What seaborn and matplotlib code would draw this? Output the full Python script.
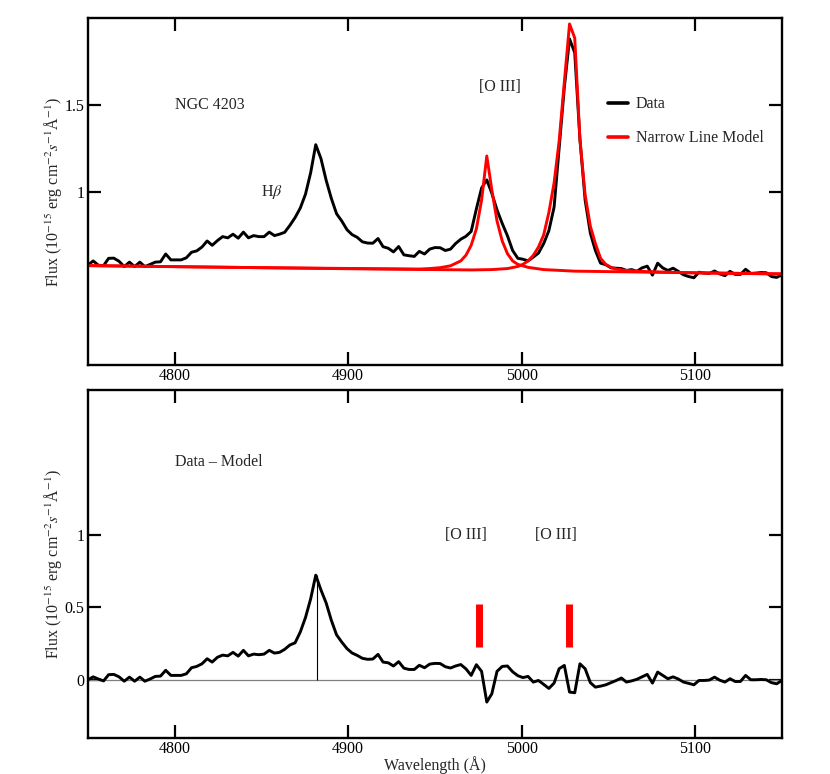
import numpy as np
import pandas as pd
import seaborn as sns
import matplotlib
matplotlib.use("Agg")
import matplotlib.pyplot as plt

# wavelength grid of the spectrum (Angstrom)
wave = [4750.0, 4753.0, 4756.0, 4759.0, 4761.9, 4764.9, 4767.9, 4770.9, 4773.9, 4776.9,
        4779.9, 4782.8, 4785.8, 4788.8, 4791.8, 4794.8, 4797.8, 4800.7, 4803.7, 4806.7,
        4809.7, 4812.7, 4815.7, 4818.7, 4821.6, 4824.6, 4827.6, 4830.6, 4833.6, 4836.6,
        4839.6, 4842.5, 4845.5, 4848.5, 4851.5, 4854.5, 4857.5, 4860.4, 4863.4, 4866.4,
        4869.4, 4872.4, 4875.4, 4878.4, 4881.3, 4884.3, 4887.3, 4890.3, 4893.3, 4896.3,
        4899.3, 4902.2, 4905.2, 4908.2, 4911.2, 4914.2, 4917.2, 4920.1, 4923.1, 4926.1,
        4929.1, 4932.1, 4935.1, 4938.1, 4941.0, 4944.0, 4947.0, 4950.0, 4953.0, 4956.0,
        4959.0, 4961.9, 4964.9, 4967.9, 4970.9, 4973.9, 4976.9, 4979.9, 4982.8, 4985.8,
        4988.8, 4991.8, 4994.8, 4997.8, 5000.7, 5003.7, 5006.7, 5009.7, 5012.7, 5015.7,
        5018.7, 5021.6, 5024.6, 5027.6, 5030.6, 5033.6, 5036.6, 5039.6, 5042.5, 5045.5,
        5048.5, 5051.5, 5054.5, 5057.5, 5060.4, 5063.4, 5066.4, 5069.4, 5072.4, 5075.4,
        5078.4, 5081.3, 5084.3, 5087.3, 5090.3, 5093.3, 5096.3, 5099.3, 5102.2, 5105.2,
        5108.2, 5111.2, 5114.2, 5117.2, 5120.1, 5123.1, 5126.1, 5129.1, 5132.1, 5135.1,
        5138.1, 5141.0, 5144.0, 5147.0, 5150.0]

# observed flux (1e-15 erg/cm2/s/A)
flux = [0.577, 0.600, 0.575, 0.573, 0.615, 0.616, 0.598, 0.567, 0.593, 0.567,
        0.593, 0.567, 0.580, 0.593, 0.595, 0.640, 0.606, 0.606, 0.606, 0.618,
        0.650, 0.658, 0.680, 0.715, 0.690, 0.717, 0.740, 0.733, 0.754, 0.731,
        0.766, 0.733, 0.746, 0.740, 0.740, 0.766, 0.746, 0.754, 0.765, 0.805,
        0.850, 0.905, 0.985, 1.110, 1.270, 1.190, 1.065, 0.960, 0.872, 0.830,
        0.780, 0.752, 0.736, 0.710, 0.703, 0.702, 0.729, 0.682, 0.673, 0.652,
        0.683, 0.635, 0.630, 0.626, 0.655, 0.640, 0.668, 0.677, 0.676, 0.660,
        0.668, 0.700, 0.725, 0.742, 0.770, 0.900, 1.020, 1.067, 0.990, 0.894,
        0.816, 0.745, 0.660, 0.615, 0.610, 0.600, 0.622, 0.645, 0.700, 0.775,
        0.910, 1.250, 1.600, 1.880, 1.800, 1.300, 0.950, 0.760, 0.660, 0.587,
        0.578, 0.560, 0.558, 0.556, 0.545, 0.550, 0.540, 0.560, 0.570, 0.518,
        0.587, 0.560, 0.545, 0.558, 0.540, 0.520, 0.510, 0.503, 0.535, 0.530,
        0.528, 0.542, 0.525, 0.515, 0.540, 0.522, 0.522, 0.552, 0.528, 0.530,
        0.533, 0.532, 0.510, 0.505, 0.520]

# data - model residual
resid = [0.000, 0.020, 0.005, -0.008, 0.035, 0.037, 0.020, -0.010, 0.018, -0.010,
         0.018, -0.010, 0.005, 0.023, 0.025, 0.065, 0.030, 0.030, 0.030, 0.041,
         0.083, 0.092, 0.110, 0.145, 0.122, 0.155, 0.170, 0.165, 0.189, 0.163,
         0.203, 0.165, 0.177, 0.173, 0.177, 0.203, 0.184, 0.189, 0.210, 0.240,
         0.255, 0.330, 0.430, 0.560, 0.722, 0.620, 0.530, 0.410, 0.310, 0.260,
         0.215, 0.185, 0.168, 0.148, 0.141, 0.143, 0.175, 0.122, 0.117, 0.095,
         0.125, 0.080, 0.071, 0.071, 0.100, 0.083, 0.108, 0.113, 0.112, 0.090,
         0.081, 0.095, 0.105, 0.075, 0.030, 0.104, 0.058, -0.154, -0.097, 0.058,
         0.092, 0.095, 0.055, 0.028, 0.015, 0.023, -0.016, -0.005, -0.032, -0.060,
         -0.023, 0.076, 0.099, -0.085, -0.090, 0.110, 0.076, -0.020, -0.051, -0.044,
         -0.035, -0.020, -0.005, 0.012, -0.016, -0.008, 0.003, 0.020, 0.037, -0.023,
         0.053, 0.030, 0.007, 0.020, 0.005, -0.016, -0.025, -0.035, -0.005, -0.005,
         -0.002, 0.018, -0.003, -0.016, 0.007, -0.012, -0.012, 0.030, 0.000, 0.000,
         0.002, 0.000, -0.020, -0.028, -0.005]

# narrow line model, [O III] 4959 component (with continuum)
wave_m1 = [4750.0, 4850.0, 4941.0, 4947.0, 4953.0, 4959.0, 4964.9, 4967.9, 4970.9, 4973.9,
           4976.9, 4979.9, 4982.8, 4985.8, 4988.8, 4991.8, 4994.8, 4997.8, 5003.7, 5012.7,
           5030.6, 5150.0]
model_m1 = [0.573, 0.561, 0.553, 0.556, 0.561, 0.572, 0.600, 0.633, 0.690, 0.785,
            0.950, 1.205, 1.010, 0.830, 0.715, 0.642, 0.600, 0.580, 0.563, 0.550,
            0.541, 0.525]

# narrow line model, [O III] 5007 component (with continuum)
wave_m2 = [4750.0, 4900.0, 4970.9, 4982.8, 4991.8, 4997.8, 5000.7, 5003.7, 5006.7, 5009.7,
           5012.7, 5015.7, 5018.7, 5021.6, 5024.6, 5027.6, 5030.6, 5033.6, 5036.6, 5039.6,
           5042.5, 5045.5, 5048.5, 5051.5, 5054.5, 5060.4, 5072.4, 5100.0, 5150.0]
model_m2 = [0.573, 0.555, 0.548, 0.550, 0.556, 0.568, 0.580, 0.600, 0.632, 0.680,
            0.750, 0.880, 1.050, 1.290, 1.630, 1.966, 1.885, 1.300, 0.980, 0.800,
            0.700, 0.615, 0.580, 0.563, 0.553, 0.545, 0.538, 0.531, 0.525]

# [O III] markers in the residual panel
oiii_x = [4975.2, 5027.5]
oiii_lo = [0.225, 0.225]
oiii_hi = [0.525, 0.525]
hb_x = 4882.0
hb_peak = 0.722

xticks = [4800, 4900, 5000, 5100]

df = pd.DataFrame({"wave": wave, "flux": flux, "resid": resid})
m1 = pd.DataFrame({"wave": wave_m1, "model": model_m1})
m2 = pd.DataFrame({"wave": wave_m2, "model": model_m2})

sns.set_theme(style="ticks")
plt.rcParams["font.family"] = ["Liberation Serif", "DejaVu Serif"]
plt.rcParams["mathtext.fontset"] = "stix"
plt.rcParams["font.size"] = 11.5

fig = plt.figure(figsize=(8.3, 7.74), dpi=100)
ax1 = fig.add_axes([0.106, 0.5284, 0.836, 0.4483])
ax2 = fig.add_axes([0.106, 0.0469, 0.836, 0.4492])

ylab = r"Flux (10$^{-15}$ erg cm$^{-2}s^{-1}$Å$^{-1}$)"

# top panel: data + narrow line model
sns.lineplot(data=df, x="wave", y="flux", ax=ax1, color="black", lw=2.1,
             sort=False, estimator=None, label="Data")
sns.lineplot(data=m1, x="wave", y="model", ax=ax1, color="red", lw=2.1,
             sort=False, estimator=None, label="Narrow Line Model")
sns.lineplot(data=m2, x="wave", y="model", ax=ax1, color="red", lw=2.1,
             sort=False, estimator=None, label="_nolegend_")

ax1.set_xlim(4750, 5150)
ax1.set_ylim(0, 2)
ax1.set_yticks([1, 1.5])
ax1.set_yticklabels(["1", "1.5"])
ax1.text(4800, 1.5, "NGC 4203", ha="left", va="center", fontsize=11.5)
ax1.text(4850, 1.0, r"H$\beta$", ha="left", va="center", fontsize=11.5)
ax1.text(4987.5, 1.6, "[O III]", ha="center", va="center", fontsize=11.5)
leg = ax1.legend(loc="upper left", bbox_to_anchor=(0.749, 0.775), frameon=False,
                 borderpad=0, borderaxespad=0, handlelength=1.25, handletextpad=0.5,
                 labelspacing=1.15, fontsize=11.5)
for h in leg.get_lines():
    h.set_linewidth(2.6)

# bottom panel: residual
ax2.axhline(0, color="#7f7f7f", lw=0.9, zorder=1)
sns.lineplot(data=df, x="wave", y="resid", ax=ax2, color="black", lw=2.1,
             sort=False, estimator=None)
ax2.vlines(hb_x, 0, hb_peak, color="black", lw=0.8)
ax2.vlines(oiii_x, oiii_lo, oiii_hi, color="red", lw=5)
ax2.set_xlim(4750, 5150)
ax2.set_ylim(-0.4, 2)
ax2.set_yticks([0, 0.5, 1])
ax2.set_yticklabels(["0", "0.5", "1"])
ax2.text(4800, 1.5, "Data \u2013 Model", ha="left", va="center", fontsize=11.5)
ax2.text(4967.7, 1.0, "[O III]", ha="center", va="center", fontsize=11.5)
ax2.text(5019.6, 1.0, "[O III]", ha="center", va="center", fontsize=11.5)

for ax in (ax1, ax2):
    ax.set_xticks(xticks)
    ax.set_xticklabels([str(t) for t in xticks])
    ax.set_ylabel(ylab, fontsize=11.5)
    ax.yaxis.set_label_coords(-0.035, 0.5)
    ax.tick_params(direction="in", length=9.5, width=1.6, top=True, right=True,
                   labelsize=11.5, pad=2.5, colors="black")
    for s in ax.spines.values():
        s.set_linewidth(1.7)
        s.set_color("black")
        s.set_visible(True)
ax1.set_xlabel("")
ax2.set_xlabel("Wavelength (Å)", fontsize=11.5, va="center")
ax2.xaxis.set_label_coords(0.5, -0.078)

fig.savefig("out.png", dpi=100)
